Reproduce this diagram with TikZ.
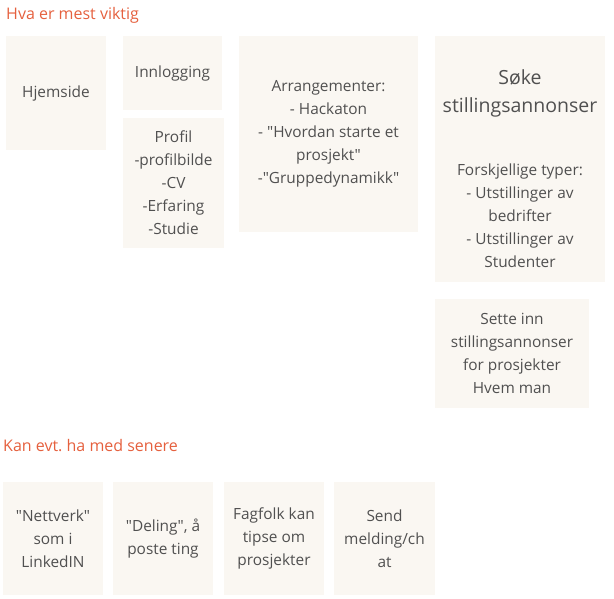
\documentclass[tikz,border=0pt]{standalone}
\usepackage{fontspec}
\setmainfont{Open Sans}[Ligatures=TeXOff]
\usepackage{xcolor}
\definecolor{boxfill}{HTML}{FAF7F2}
\definecolor{headred}{HTML}{E5603E}
\definecolor{boxtext}{HTML}{505050}
\frenchspacing

\begin{document}
\begin{tikzpicture}[x=1pt, y=-1pt,
    card/.style={fill=boxfill, text=boxtext, align=center, inner sep=0pt,
                 font=\fontsize{15.4}{23}\selectfont},
    heading/.style={text=headred, anchor=west, inner sep=0pt,
                 font=\fontsize{16}{18}\selectfont}]
    \useasboundingbox (0, 0) rectangle (614, 598);
    \def\h{113};
    \def\yb{538.5};
    \node[heading] at (6, 15) (Viktig) {Hva er mest viktig};
    \node[card, minimum width=100, minimum height=114] at (56, 93) (Hjem) {Hjemside};
    \node[card, minimum width=99, minimum height=74] at (172.5, 73) (Inn) {Innlogging};
    \node[card, minimum width=101, minimum height=130] at (173.5, 183) (Profil) {Profil\\-profilbilde\\-CV\\-Erfaring\\-Studie};
    \node[card, minimum width=179, minimum height=196] at (328.5, 134) (Arr) {Arrangementer:\\- Hackaton\\- "Hvordan starte et\\prosjekt"\\-"Gruppedynamikk"};
    \node[card, minimum width=170, minimum height=114, font=\fontsize{19.5}{28}\selectfont] at (520, 93) (Soke) {Søke\\stillingsannonser};
    \node[card, minimum width=170, minimum height=132] at (520, 216) (Typer) {Forskjellige typer:\\- Utstillinger av\\bedrifter\\- Utstillinger av\\Studenter};
    \node[card, minimum width=154, minimum height=109] at (512, 353.5) (Sette) {Sette inn\\stillingsannonser\\for prosjekter\\Hvem man};
    \node[heading] at (3, 446) (Senere) {Kan evt. ha med senere};
    \node[card, minimum width=100, minimum height=\h] at (53, \yb) (Nett) {"Nettverk"\\som i\\LinkedIN};
    \node[card, minimum width=100, minimum height=\h] at (163, \yb) (Deling) {"Deling", å\\poste ting};
    \node[card, minimum width=100, minimum height=\h] at (274, \yb) (Fagfolk) {Fagfolk kan\\tipse om\\prosjekter};
    \node[card, minimum width=101, minimum height=\h] at (384.5, \yb) (Melding) {Send\\melding/ch\\at};
\end{tikzpicture}
\end{document}
